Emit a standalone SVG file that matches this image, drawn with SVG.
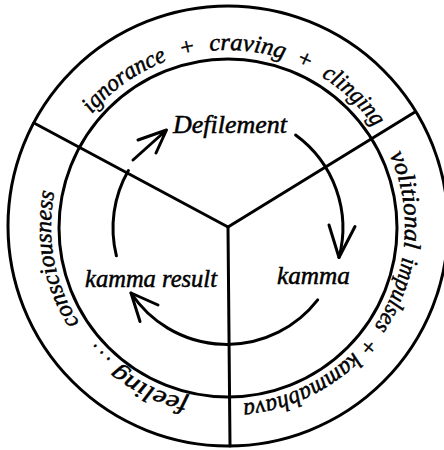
<svg xmlns="http://www.w3.org/2000/svg" xmlns:xlink="http://www.w3.org/1999/xlink" width="444" height="450" viewBox="0 0 444 450">
<style>
.ln{fill:none;stroke:#000;stroke-width:3;stroke-linecap:round;stroke-linejoin:round}
.t{font-family:"Liberation Serif","Times New Roman",serif;font-style:italic;fill:#000;stroke:#000;stroke-width:0.5}
.band{font-size:24px}
.mid{font-size:25px}
</style>
<defs>
<path id="ring" d="M 228,404 A 177 177 0 1 1 228,50 A 177 177 0 1 1 228,404"/>
</defs>
<rect width="444" height="450" fill="#fff"/>
<g id="wheel">
<circle class="ln" cx="228" cy="226" r="220"/>
<circle class="ln" cx="228" cy="228" r="169"/>
</g>
<g id="connectors">
<line class="ln" x1="228" y1="227" x2="34" y2="123"/>
<line class="ln" x1="228" y1="227" x2="415" y2="112"/>
<line class="ln" x1="228" y1="227" x2="230" y2="446"/>
<path class="ln" d="M 116.4,255.8 A 115 115 0 0 1 128.4,170.5"/>
<path class="ln" d="M 133,160 L 166.5,130 M 138,140 L 166.5,130 L 156,153"/>
<path class="ln" d="M 295.6,135 A 115 115 0 0 1 339,257.5"/>
<path class="ln" d="M 329,225 L 339,257.5 L 355,226.5"/>
<path class="ln" d="M 317.7,299.9 A 115 115 0 0 1 131,293"/>
<path class="ln" d="M 158,305 L 131,293 L 140,321.5"/>
</g>
<g id="n-defilement"><text class="t mid" x="173" y="133" textLength="114" lengthAdjust="spacingAndGlyphs">Defilement</text></g>
<g id="n-kamma"><text class="t mid" x="277" y="284" textLength="73" lengthAdjust="spacingAndGlyphs">kamma</text></g>
<g id="n-kamma-result"><text class="t mid" x="85" y="287" textLength="132" lengthAdjust="spacingAndGlyphs">kamma result</text></g>
<g id="band-top" class="t band" text-anchor="middle">
<text><textPath xlink:href="#ring" href="#ring" startOffset="447" textLength="93" lengthAdjust="spacingAndGlyphs">ignorance</textPath></text>
<text><textPath xlink:href="#ring" href="#ring" startOffset="516">+</textPath></text>
<text><textPath xlink:href="#ring" href="#ring" startOffset="575" textLength="75" lengthAdjust="spacingAndGlyphs">craving</textPath></text>
<text><textPath xlink:href="#ring" href="#ring" startOffset="632">+</textPath></text>
<text><textPath xlink:href="#ring" href="#ring" startOffset="691" textLength="74" lengthAdjust="spacingAndGlyphs">clinging</textPath></text>
</g>
<g id="band-right" class="t band" text-anchor="middle">
<text><textPath xlink:href="#ring" href="#ring" startOffset="807" textLength="96" lengthAdjust="spacingAndGlyphs">volitional</textPath></text>
<text><textPath xlink:href="#ring" href="#ring" startOffset="902" textLength="76" lengthAdjust="spacingAndGlyphs">impulses</textPath></text>
<text><textPath xlink:href="#ring" href="#ring" startOffset="1024" textLength="146" lengthAdjust="spacingAndGlyphs">+  kammabhava</textPath></text>
</g>
<g id="band-left" class="t band" text-anchor="middle">
<text><textPath xlink:href="#ring" href="#ring" startOffset="80" textLength="80" lengthAdjust="spacingAndGlyphs">feeling</textPath></text>
<text><textPath xlink:href="#ring" href="#ring" startOffset="140" textLength="23" lengthAdjust="spacingAndGlyphs">. . .</textPath></text>
<text><textPath xlink:href="#ring" href="#ring" startOffset="245" textLength="137" lengthAdjust="spacingAndGlyphs">consciousness</textPath></text>
</g>
</svg>
